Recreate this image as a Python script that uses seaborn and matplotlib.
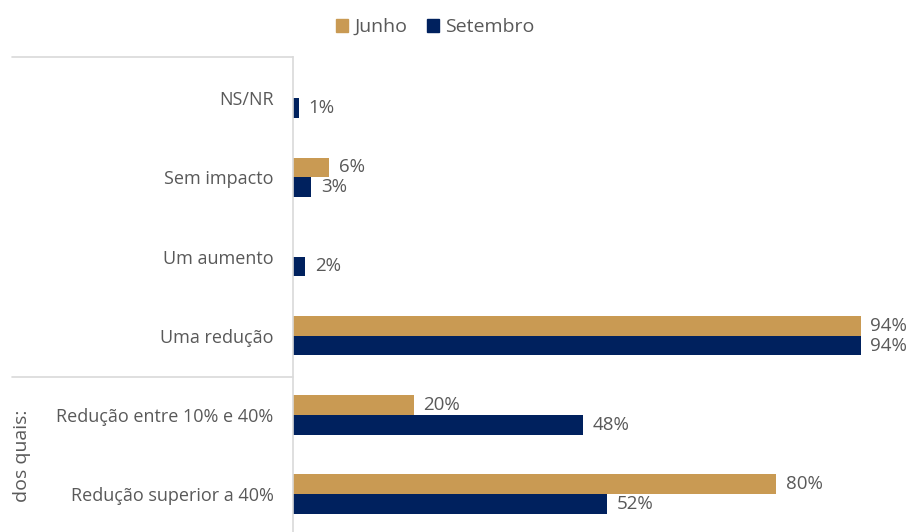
import numpy as np
import pandas as pd
import matplotlib.pyplot as plt
import seaborn as sns

# Data
categories = ['NS/NR', 'Sem impacto', 'Um aumento', 'Uma redução',
              'Redução entre 10% e 40%', 'Redução superior a 40%']
junho = [np.nan, 6, np.nan, 94, 20, 80]
setembro = [1, 3, 2, 94, 48, 52]
series = ['Junho', 'Setembro']
colors = ['#C99A53', '#00215E']

sns.set_style('white')
plt.rcParams['font.family'] = ['Open Sans', 'DejaVu Sans']
text_color = '#595959'
line_color = '#D9D9D9'

df = pd.DataFrame({'categoria': categories * 2,
                   'serie': ['Junho'] * len(categories) + ['Setembro'] * len(categories),
                   'valor': junho + setembro}).dropna()

fig = plt.figure(figsize=(9.11, 5.32), dpi=100)
W, H = 911, 532
ax = fig.add_axes([293 / W, 0, (874 - 293) / W, (532 - 57) / H])

sns.barplot(data=df, y='categoria', x='valor', hue='serie', order=categories,
            hue_order=series, palette=colors, saturation=1, orient='h',
            width=0.5, gap=0, linewidth=0, ax=ax, legend=False)

ax.set_xlim(0, 581 / 6.04)
ax.set_ylim(5.48, -0.52)
ax.set_xlabel('')
ax.set_ylabel('')
ax.set_xticks([])
ax.tick_params(axis='y', length=0, pad=14, labelsize=13, labelcolor=text_color)
for s in ['top', 'right', 'bottom']:
    ax.spines[s].set_visible(False)
ax.spines['left'].set_color(line_color)
ax.spines['left'].set_linewidth(1.2)

# value labels
for cont in ax.containers:
    ax.bar_label(cont, fmt='%.0f%%', padding=7, fontsize=13.5, color=text_color,
                 clip_on=False)

# lines at the left
fig.add_artist(plt.Line2D([12 / W, 293 / W], [1 - 57 / H, 1 - 57 / H],
                          color=line_color, lw=1.2))
fig.add_artist(plt.Line2D([12 / W, 293 / W], [1 - 377 / H, 1 - 377 / H],
                          color=line_color, lw=1.2))
fig.text(22 / W, 1 - 456 / H, 'dos quais:', rotation=90, ha='center',
         va='center', fontsize=14, color=text_color)

# legend
handles = [plt.Rectangle((0, 0), 1, 1, color=c) for c in colors]
fig.legend(handles, series, loc='center', bbox_to_anchor=(435 / W, 1 - 27 / H),
           ncol=2, frameon=False, fontsize=14, labelcolor=text_color,
           handlelength=0.65, handleheight=0.65, handletextpad=0.3,
           columnspacing=1.0)

fig.savefig('out.png', dpi=100)
